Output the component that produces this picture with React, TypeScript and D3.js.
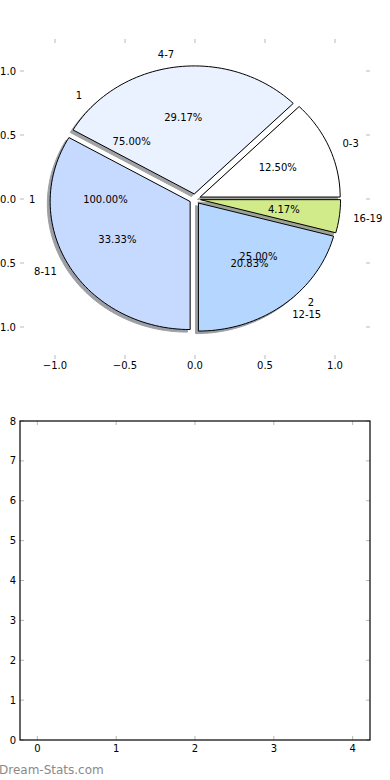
import React from 'react';
import * as d3 from 'd3';

// ---- data ----
const ageLabels = ['0-3', '4-7', '8-11', '12-15', '16-19'];
const ageCounts = [3, 7, 8, 5, 1];
const ageColors = ['#ffffff', '#eaf1ff', '#c6d9ff', '#b5d6ff', '#d1eb8a'];
const groupLabels = ['1', '1', '2'];
const groupFracs = [1.0, 0.75, 0.25];
const pieTicks = [-1.0, -0.5, 0.0, 0.5, 1.0];
const barXTicks = [0, 1, 2, 3, 4];
const barYTicks = [0, 1, 2, 3, 4, 5, 6, 7, 8];

const W = 390;
const H = 780;
const FONT = 'DejaVu Sans, sans-serif';
const TICK = '#b8b8b8';
const EXPLODE = 0.04;

export default function App() {
  // top (pie) axes
  const px = d3.scaleLinear().domain([-1.25, 1.25]).range([20, 370]);
  const py = d3.scaleLinear().domain([-1.25, 1.25]).range([359, 39]);
  // bottom axes
  const bx = d3.scaleLinear().domain([-0.22, 4.22]).range([20, 370]);
  const by = d3.scaleLinear().domain([0, 8]).range([740, 421]);

  const total = d3.sum(ageCounts);
  const fracs = ageCounts.map((c) => c / total);
  const line = d3
    .line<[number, number]>()
    .x((d) => px(d[0]))
    .y((d) => py(d[1]));

  let acc = 0;
  const wedges = fracs.map((f, i) => {
    const t1 = acc * 2 * Math.PI;
    const t2 = (acc + f) * 2 * Math.PI;
    acc += f;
    const tm = (t1 + t2) / 2;
    const cx = EXPLODE * Math.cos(tm);
    const cy = EXPLODE * Math.sin(tm);
    const n = Math.max(8, Math.ceil(((t2 - t1) / (2 * Math.PI)) * 200));
    const angles = d3.range(n + 1).map((k) => t1 + ((t2 - t1) * k) / n);
    const pts = (ox: number, oy: number): [number, number][] => [
      [cx + ox, cy + oy],
      ...angles.map((a) => [cx + ox + Math.cos(a), cy + oy + Math.sin(a)] as [number, number]),
      [cx + ox, cy + oy],
    ];
    return {
      i,
      tm,
      cx,
      cy,
      path: line(pts(0, 0)) + 'Z',
      shadow: line(pts(-0.02, -0.02)) + 'Z',
    };
  });

  const shadeColor = (c: string) => {
    const r = d3.rgb(c);
    return d3.rgb(r.r * 0.3, r.g * 0.3, r.b * 0.3).toString();
  };

  let acc2 = 0;
  const groupTexts = groupFracs.map((f, i) => {
    const tm = (acc2 + f / 2) * 2 * Math.PI;
    acc2 += f;
    return { i, tm };
  });

  const labelAt = (tm: number, dist: number) => ({
    x: (EXPLODE + dist) * Math.cos(tm),
    y: (EXPLODE + dist) * Math.sin(tm),
  });

  return (
    <svg
      width={W}
      height={H}
      style={{ position: 'absolute', left: 0, top: 0, background: '#fff' }}
      fontFamily={FONT}
    >
      <rect x={0} y={0} width={W} height={H} fill="#fff" />

      {/* ---- pie axes ticks ---- */}
      {pieTicks.map((t) => (
        <g key={'px' + t}>
          <line x1={px(t)} x2={px(t)} y1={359} y2={355} stroke={TICK} strokeWidth={1} />
          <line x1={px(t)} x2={px(t)} y1={39} y2={43} stroke={TICK} strokeWidth={1} />
          <text x={px(t)} y={369} fontSize={10} textAnchor="middle" fill="#000">
            {t < 0 ? '\u2212' + Math.abs(t).toFixed(1) : t.toFixed(1)}
          </text>
        </g>
      ))}
      {pieTicks.map((t) => (
        <g key={'py' + t}>
          <line x1={20} x2={24} y1={py(t)} y2={py(t)} stroke={TICK} strokeWidth={1} />
          <line x1={370} x2={366} y1={py(t)} y2={py(t)} stroke={TICK} strokeWidth={1} />
          <text x={16} y={py(t)} dy="0.35em" fontSize={10} textAnchor="end" fill="#000">
            {t < 0 ? '\u2212' + Math.abs(t).toFixed(1) : t.toFixed(1)}
          </text>
        </g>
      ))}

      {/* ---- shadows ---- */}
      {wedges.map((w) => (
        <path
          key={'s' + w.i}
          d={w.shadow}
          fill={shadeColor(ageColors[w.i])}
          stroke={shadeColor(ageColors[w.i])}
          strokeWidth={1}
          opacity={0.5}
        />
      ))}
      {/* ---- wedges ---- */}
      {wedges.map((w) => (
        <path key={'w' + w.i} d={w.path} fill={ageColors[w.i]} stroke="#000" strokeWidth={1} strokeLinejoin="miter" />
      ))}

      {/* ---- pie labels ---- */}
      {wedges.map((w) => {
        const l = labelAt(w.tm, 1.1);
        const p = labelAt(w.tm, 0.6);
        return (
          <g key={'l' + w.i}>
            <text
              x={px(l.x)}
              y={py(l.y)}
              dy="0.35em"
              fontSize={10}
              textAnchor={Math.cos(w.tm) > 0 ? 'start' : 'end'}
              fill="#000"
            >
              {ageLabels[w.i]}
            </text>
            <text x={px(p.x)} y={py(p.y)} dy="0.35em" fontSize={10} textAnchor="middle" fill="#000">
              {(fracs[w.i] * 100).toFixed(2) + '%'}
            </text>
          </g>
        );
      })}
      {groupTexts.map((g) => {
        const l = labelAt(g.tm, 1.1);
        const p = labelAt(g.tm, 0.6);
        return (
          <g key={'g' + g.i}>
            <text
              x={px(l.x)}
              y={py(l.y)}
              dy="0.35em"
              fontSize={10}
              textAnchor={Math.cos(g.tm) > 0 ? 'start' : 'end'}
              fill="#000"
            >
              {groupLabels[g.i]}
            </text>
            <text x={px(p.x)} y={py(p.y)} dy="0.35em" fontSize={10} textAnchor="middle" fill="#000">
              {(groupFracs[g.i] * 100).toFixed(2) + '%'}
            </text>
          </g>
        );
      })}

      {/* ---- bottom axes ---- */}
      {barXTicks.map((t) => (
        <g key={'bx' + t}>
          <line x1={bx(t)} x2={bx(t)} y1={740} y2={736} stroke={TICK} strokeWidth={1} />
          <line x1={bx(t)} x2={bx(t)} y1={421} y2={425} stroke={TICK} strokeWidth={1} />
          <text x={bx(t)} y={752} fontSize={10} textAnchor="middle" fill="#000">
            {String(t)}
          </text>
        </g>
      ))}
      {barYTicks.map((t) => (
        <g key={'by' + t}>
          <line x1={20} x2={24} y1={by(t)} y2={by(t)} stroke={TICK} strokeWidth={1} />
          <line x1={370} x2={366} y1={by(t)} y2={by(t)} stroke={TICK} strokeWidth={1} />
          <text x={16} y={by(t)} dy="0.35em" fontSize={10} textAnchor="end" fill="#000">
            {String(t)}
          </text>
        </g>
      ))}
      <rect x={20} y={421} width={350} height={319} fill="none" stroke="#000" strokeWidth={1.2} />

      {/* watermark */}
      <text x={-1} y={774} fontSize={12} fill="#8a8a8a">
        Dream-Stats.com
      </text>
    </svg>
  );
}
